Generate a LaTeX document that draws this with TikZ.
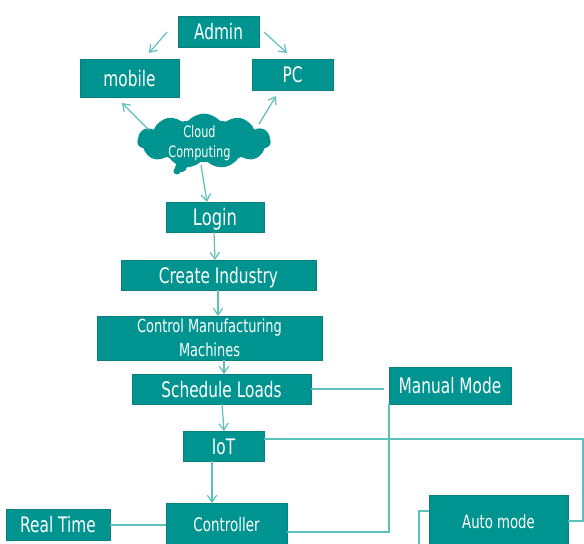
\documentclass[tikz,border=0pt]{standalone}
\usepackage{fontspec}
\setmainfont[FakeStretch=0.72]{DejaVu Sans}
\usetikzlibrary{shapes.symbols,arrows.meta}
\definecolor{boxfill}{HTML}{009490}
\definecolor{boxedge}{HTML}{0A7F7C}
\definecolor{linkc}{HTML}{5CC0BC}
\tikzset{
  x=0.75pt,y=-0.75pt,
  tbox/.style={fill=boxfill,draw=boxedge,line width=0.6pt,text=white,inner sep=0pt,outer sep=0pt,font=\fontsize{16}{19}\selectfont,align=center,anchor=center},
  sl/.style={text height=12pt,text depth=0pt},
  arr/.style={draw=linkc,line width=0.9pt,-{Straight Barb[length=5pt,width=7pt]}},
  lnk/.style={draw=linkc,line width=0.9pt},
}
\newcommand{\bx}[7][]{\node[tbox,minimum width=#4*0.75pt-#2*0.75pt,minimum height=#5*0.75pt-#3*0.75pt,#1] (#6) at ({(#2+#4)/2},{(#3+#5)/2}) {#7};}
\begin{document}
\begin{tikzpicture}
\useasboundingbox (0,0) rectangle (584,543);
\clip (0,0) rectangle (584,543);
\fill[white] (0,0) rectangle (584,543);
\bx[sl]{178}{16}{259}{47}{admin}{Admin}
\bx[sl]{80}{59}{179}{97}{mobile}{mobile}
\bx[sl]{252}{59}{333}{90}{pc}{PC}
\bx[sl]{166}{202}{264}{232}{login}{\fontsize{17}{20}\selectfont Login}
\bx[sl]{121}{260}{316}{290}{create}{Create Industry}
\bx[font=\fontsize{13.5}{18}\selectfont]{97}{316}{322}{360}{control}{Control Manufacturing\\Machines}
\bx[sl]{132}{374}{311}{404}{sched}{Schedule Loads}
\bx[sl]{389}{367}{511}{404}{manual}{Manual Mode}
\bx[sl]{183}{431}{264}{461}{iot}{IoT}
\bx[font=\fontsize{14}{17}\selectfont]{166}{503}{287}{563}{ctrl}{\raisebox{13.5pt}{Controller}}
\bx[sl]{6}{509}{110}{540}{real}{Real Time}
\bx[font=\fontsize{13.8}{17}\selectfont]{429}{495}{568}{563}{auto}{\raisebox{12pt}{Auto mode}}
% cloud
\fill[boxfill] (181,167) ellipse [x radius=6,y radius=5];
\fill[boxfill] (177,171) circle (3.5);
\node[cloud,cloud puffs=11,cloud puff arc=120,aspect=2.4,fill=boxfill,inner sep=0pt,minimum width=100pt,minimum height=41pt] (cloud) at (204,141) {};
\fill[boxfill] (cloud.center) ellipse [x radius=58,y radius=21];
\node[text=white,inner sep=0pt,align=center,font=\fontsize{11.8}{15.5}\selectfont] (cloudtext) at (199.5,143) {Cloud\\Computing};
% connector ends
\coordinate (a1) at (167,32); \coordinate (a2) at (149,53);
\coordinate (a3) at (264,32); \coordinate (a4) at (287,53);
\coordinate (c1) at (149,130); \coordinate (c2) at (122,103);
\coordinate (c3) at (259,124); \coordinate (c4) at (276,96);
\coordinate (c5) at (201,165); \coordinate (c6) at (207,202);
\draw[arr] (a1) -- (a2);
\draw[arr] (a3) -- (a4);
\draw[arr] (c1) -- (c2);
\draw[arr] (c3) -- (c4);
\draw[arr] (c5) -- (c6);
\draw[arr] (214,232) -- (215,260);
\draw[arr] (218,290) -- (218,316);
\draw[arr] (224,360) -- (224,374);
\draw[arr] (222,404) -- (224,431);
\draw[arr] (212,461) -- (212,503);
\coordinate (m1) at (384,389);
\draw[lnk] (sched.east |- 0,389) -- (m1);
\draw[lnk] (real.east |- 0,525) -- (ctrl.west |- 0,525);
\coordinate (b1) at (389,532);
\draw[lnk] (ctrl.east |- 0,532) -- (b1) -- (manual.south west);
\coordinate (e1) at (583,439);
\coordinate (e2) at (583,521);
\draw[lnk] (iot.east |- 0,439) -- (e1) -- (e2) -- (auto.east |- 0,521);
\coordinate (l1) at (419,511);
\coordinate (l2) at (419,550);
\draw[lnk] (auto.west |- 0,511) -- (l1) -- (l2);
\end{tikzpicture}
\end{document}
